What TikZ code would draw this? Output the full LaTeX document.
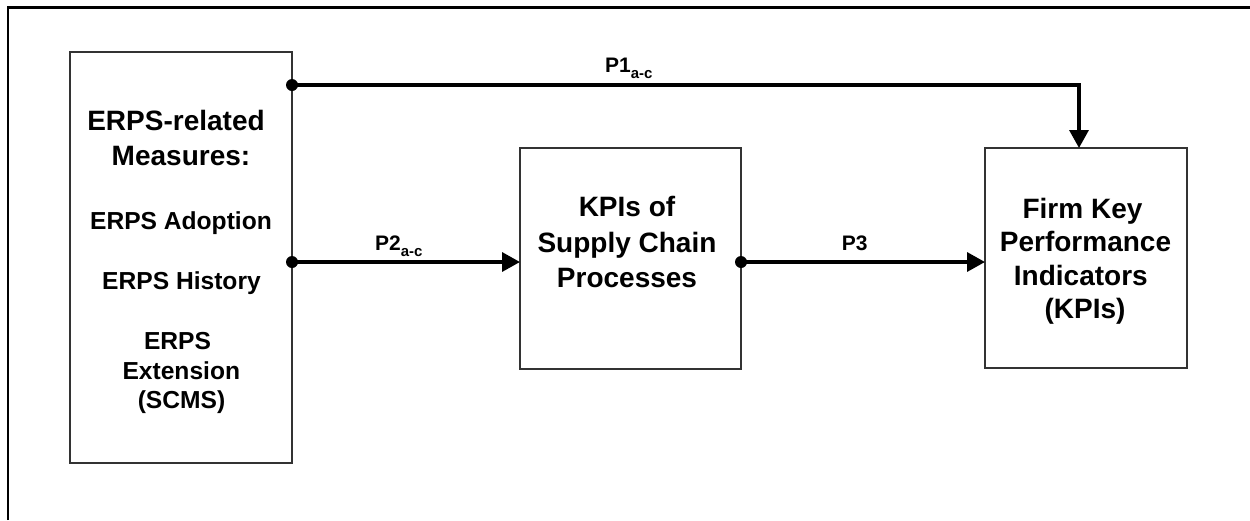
\documentclass[tikz,border=0pt]{standalone}
\usepackage{fontspec}
\setmainfont{Liberation Sans}
\usetikzlibrary{arrows.meta,calc}
\newcommand\lowidx[1]{\raisebox{-6.5pt}{\fontsize{15}{15}\selectfont #1}}
\begin{document}
\begin{tikzpicture}[x=1pt,y=-1pt,
  box/.style={draw=black!80, line width=1.6pt, fill=white, inner sep=0pt, outer sep=0pt},
  big/.style={font=\fontsize{28}{28}\selectfont\bfseries, anchor=base, inner sep=0pt},
  small/.style={font=\fontsize{24.6}{24.6}\selectfont\bfseries, anchor=base, inner sep=0pt},
  lab/.style={font=\fontsize{21}{21}\selectfont\bfseries, anchor=base west, inner sep=0pt},
  conn/.style={line width=3.4pt, -{Triangle[length=18pt,width=19pt]}},
  dot/.style={fill=black}]
\useasboundingbox (0,0) rectangle (1250,520);

% outer frame (only its top and left sides fall inside the page)
\draw[line width=2.6pt] (8,520) -- (8,7.5) -- (1250,7.5);

% boxes
\node[box, minimum width=222pt, minimum height=411pt] (lbox) at (181,257.5) {};
\node[box, minimum width=221pt, minimum height=221pt] (mbox) at (630.5,258.5) {};
\node[box, minimum width=202pt, minimum height=220pt] (rbox) at (1086,258) {};

% left box text
\node[big]   (l1) at (176,130) {ERPS-related};
\node[big]   (l2) at (181,165) {Measures:};
\node[small] (l3) at (181,229.3) {ERPS Adoption};
\node[small] (l4) at (181.5,289) {ERPS History};
\node[small] (l5) at (177.5,349) {ERPS};
\node[small] (l6) at (181.3,379) {Extension};
\node[small] (l7) at (181.5,408) {(SCMS)};

% middle box text
\node[big] (m1) at (627,216.5) {KPIs of};
\node[big] (m2) at (627,252) {Supply Chain};
\node[big] (m3) at (627,287.5) {Processes};

% right box text
\node[big] (r1) at (1082.5,218.3) {Firm Key};
\node[big] (r2) at (1085.5,251.5) {Performance};
\node[big] (r3) at (1080.8,285) {Indicators};
\node[big] (r4) at (1085,318) {(KPIs)};

% connector start points
\coordinate (s1) at ([yshift=-33pt]lbox.north east);
\coordinate (s2) at ([yshift=-4.5pt]lbox.east);
\coordinate (s3) at ([yshift=-3.5pt]mbox.east);
\coordinate (e1) at ([xshift=-7pt]rbox.north);

% connectors
\draw[conn] (s1) -| (e1);
\draw[conn] (s2) -- (s2 -| mbox.west);
\draw[conn] (s3) -- (s3 -| rbox.west);
\fill[dot] (s1) circle (6pt);
\fill[dot] (s2) circle (6pt);
\fill[dot] (s3) circle (6pt);

% connector labels
\node[lab] (p1) at (605,72) {P1\lowidx{a-c}};
\node[lab] (p2) at (375,250) {P2\lowidx{a-c}};
\node[lab] (p3) at (841.7,250) {P3};
\end{tikzpicture}
\end{document}
